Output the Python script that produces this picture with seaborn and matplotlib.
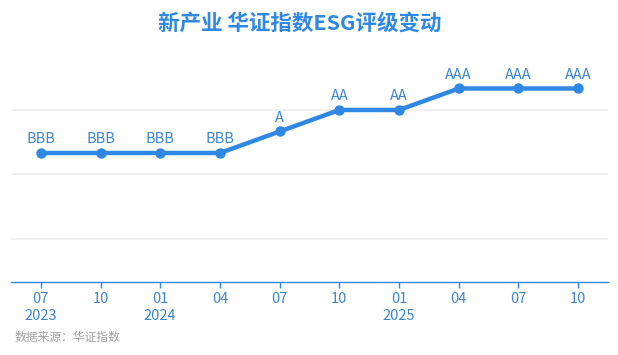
import matplotlib
matplotlib.use("Agg")
import matplotlib.pyplot as plt
import seaborn as sns
import pandas as pd

periods = ["07\n2023", "10", "01\n2024", "04", "07", "10", "01\n2025", "04", "07", "10"]
ratings = ["BBB", "BBB", "BBB", "BBB", "A", "AA", "AA", "AAA", "AAA", "AAA"]
rating_scale = {"BB": 3, "BBB": 4, "A": 5, "AA": 6, "AAA": 7}
grid_levels = [0, 3, 6]

sns.set_theme(style="white")
plt.rcParams["font.family"] = ["Noto Sans CJK SC", "DejaVu Sans"]

blue = "#2F88E3"
text_blue = "#3D87D0"

df = pd.DataFrame({"idx": range(len(periods)), "score": [rating_scale[r] for r in ratings]})

fig = plt.figure(figsize=(6.18, 3.55), dpi=100)
ax = fig.add_axes([0.0178, 0.2056, 0.966, 0.636])

for g in grid_levels:
    ax.axhline(g, color="#EFEFEF", lw=1.4, zorder=0)

sns.lineplot(data=df, x="idx", y="score", ax=ax, color=blue, lw=3.2,
             marker="o", markersize=7.5, markeredgewidth=0, zorder=3)

for i, (s, r) in enumerate(zip(df["score"], ratings)):
    ax.annotate(r, (i, s), xytext=(0, 5), textcoords="offset points",
                ha="center", va="bottom", fontsize=10.5, color=text_blue)

ax.set_xlim(-0.5, len(periods) - 0.5)
ax.set_ylim(-2, 8.5)
ax.set_xticks(range(len(periods)))
ax.set_xticklabels(periods, fontsize=10.5, color=text_blue, linespacing=1.3)
ax.set_yticks([])
ax.set_xlabel("")
ax.set_ylabel("")
for side in ["top", "right", "left"]:
    ax.spines[side].set_visible(False)
ax.spines["bottom"].set_color(blue)
ax.spines["bottom"].set_linewidth(1.0)
ax.tick_params(axis="x", bottom=True, length=4, width=1, color=blue, pad=3)

fig.text(0.485, 0.935, "新产业 华证指数ESG评级变动", ha="center", va="center",
         fontsize=15.5, fontweight="bold", color=blue)
fig.text(0.024, 0.05, "数据来源：华证指数", ha="left", va="center",
         fontsize=8.5, color="#A0A0A0")

fig.savefig("out.png", dpi=100)
